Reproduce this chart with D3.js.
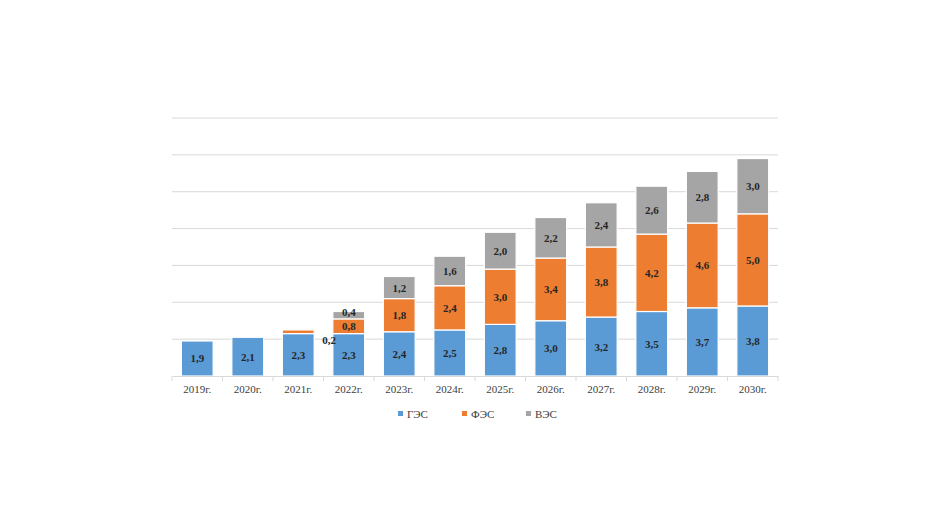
<!DOCTYPE html>
<html><head><meta charset="utf-8">
<script src="https://cdn.jsdelivr.net/npm/d3@7"></script>
<style>body{margin:0;background:#fff}svg{display:block}</style>
</head><body><svg id="c"></svg>
<script>
const years = ["2019г.","2020г.","2021г.","2022г.","2023г.","2024г.","2025г.","2026г.","2027г.","2028г.","2029г.","2030г."];
const ges = [1.9,2.1,2.3,2.3,2.4,2.5,2.8,3.0,3.2,3.5,3.7,3.8];
const fes = [0,0,0.2,0.8,1.8,2.4,3.0,3.4,3.8,4.2,4.6,5.0];
const ves = [0,0,0,0.4,1.2,1.6,2.0,2.2,2.4,2.6,2.8,3.0];
const names = ["ГЭС","ФЭС","ВЭС"];
const colors = ["#5b9bd5","#ed7d31","#a5a5a5"];
const yTicks = [0,2,4,6,8,10,12,14];

const W = 944, H = 531, mLeft = 172, mRight = 778, mTop = 118, mBottom = 376;
const svg = d3.select("#c").attr("width", W).attr("height", H);
const x = d3.scaleBand(years, [mLeft, mRight]).paddingInner(0.37).paddingOuter(0.185);
const y = d3.scaleLinear([0, 14], [mBottom, mTop]);

svg.append("g").selectAll("line").data(yTicks.slice(1)).join("line")
  .attr("x1", mLeft).attr("x2", mRight).attr("y1", d => y(d)).attr("y2", d => y(d))
  .attr("stroke", "#d9d9d9");

const rows = years.map((yr, i) => ({yr, ges: ges[i], fes: fes[i], ves: ves[i]}));
const stack = d3.stack().keys(["ges","fes","ves"])(rows);

const g = svg.append("g");
stack.forEach((s, k) => {
  g.selectAll(null).data(s).join("rect")
    .attr("x", d => x(d.data.yr)).attr("width", x.bandwidth())
    .attr("y", d => y(d[1])).attr("height", d => Math.max(0, y(d[0]) - y(d[1])))
    .attr("fill", colors[k]).attr("stroke", "#fff").attr("stroke-width", 1.2);
  g.selectAll(null).data(s.filter(d => d[1] - d[0] > 0)).join("text")
    .attr("x", d => d.data.yr === "2021г." && k === 1 ? x(d.data.yr) + x.bandwidth() + 15 : x(d.data.yr) + x.bandwidth() / 2)
    .attr("y", d => d.data.yr === "2021г." && k === 1 ? y(d[1]) + 14 : d.data.yr === "2022г." && k === 2 ? y(d[1]) + 4 : (y(d[0]) + y(d[1])) / 2 + 4)
    .attr("text-anchor", "middle")
    .attr("font-family", "Liberation Serif").attr("font-weight", "bold").attr("font-size", 11)
    .attr("fill", "#262626")
    .text(d => d3.format(".1f")(d[1] - d[0]).replace(".", ","));
});

const ax = svg.append("g").attr("transform", `translate(0,${mBottom})`)
  .call(d3.axisBottom(x).tickSize(0).tickPadding(9));
ax.select(".domain").attr("stroke", "#d9d9d9");
ax.selectAll("text").attr("font-family", "Liberation Serif").attr("font-size", 11).attr("fill", "#404040");
const step = x.step();
svg.append("g").selectAll("line").data(d3.range(years.length + 1)).join("line")
  .attr("x1", i => mLeft + i * step).attr("x2", i => mLeft + i * step)
  .attr("y1", mBottom).attr("y2", mBottom + 5).attr("stroke", "#d9d9d9");

const leg = svg.append("g").selectAll("g").data(names).join("g")
  .attr("transform", (d, i) => `translate(${398 + i * 64},415)`);
leg.append("rect").attr("x", 0).attr("y", -4).attr("width", 5).attr("height", 5).attr("fill", (d, i) => colors[i]);
leg.append("text").attr("x", 9).attr("y", 3).text(d => d)
  .attr("font-family", "Liberation Serif").attr("font-size", 11).attr("fill", "#404040");
</script></body></html>
